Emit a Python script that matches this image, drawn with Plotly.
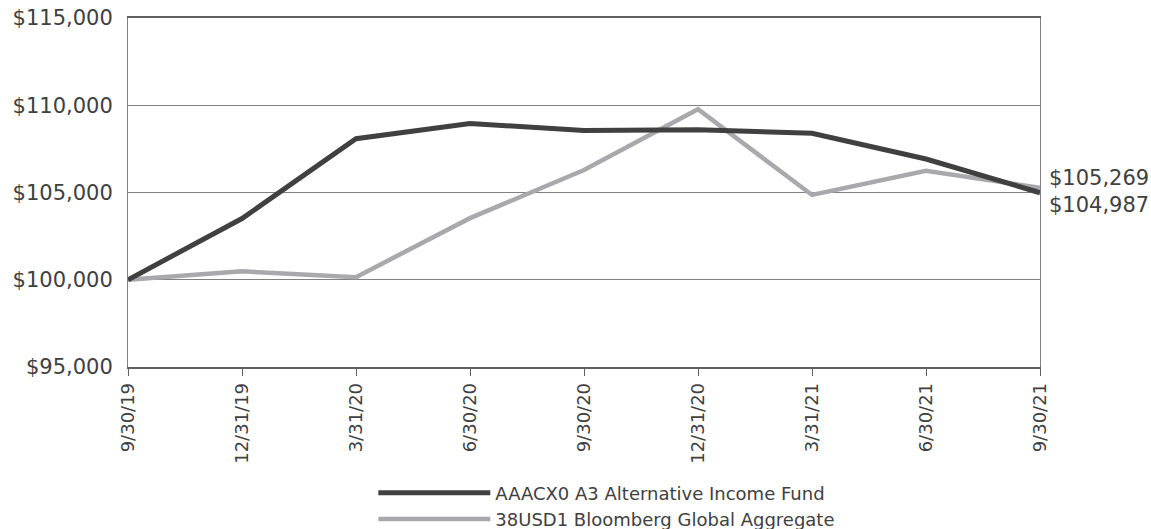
import plotly.graph_objects as go

dates = ["9/30/19", "12/31/19", "3/31/20", "6/30/20", "9/30/20",
         "12/31/20", "3/31/21", "6/30/21", "9/30/21"]
fund_name = "AAACX0 A3 Alternative Income Fund"
fund = [100000, 103510, 108080, 108960, 108550, 108590, 108390, 106920, 104987]
index_name = "38USD1 Bloomberg Global Aggregate"
index = [100000, 100480, 100150, 103530, 106290, 109770, 104860, 106250, 105269]

FONT = "DejaVu Sans"
TXT = "#404040"
GRID = "#808080"

fig = go.Figure()
fig.add_trace(go.Scatter(x=dates, y=index, name=index_name, mode="lines",
                         line=dict(color="#a9a9ab", width=4.5)))
fig.add_trace(go.Scatter(x=dates, y=fund, name=fund_name, mode="lines",
                         line=dict(color="#404040", width=5)))

fig.add_annotation(x=dates[-1], y=index[-1], xref="x", yref="y",
                   text=f"${index[-1]:,.0f}", showarrow=False,
                   xanchor="left", xshift=7, yshift=10,
                   font=dict(family=FONT, size=21, color=TXT))
fig.add_annotation(x=dates[-1], y=fund[-1], xref="x", yref="y",
                   text=f"${fund[-1]:,.0f}", showarrow=False,
                   xanchor="left", xshift=7, yshift=-12,
                   font=dict(family=FONT, size=21, color=TXT))

fig.update_layout(
    width=1151, height=529,
    margin=dict(l=128, r=111, t=18, b=162, autoexpand=False),
    paper_bgcolor="white", plot_bgcolor="white",
    font=dict(family=FONT, color=TXT),
    showlegend=True,
    legend=dict(x=0.269, y=-0.308, xanchor="left", yanchor="top",
                traceorder="reversed", itemwidth=112,
                font=dict(family=FONT, size=18, color=TXT),
                tracegroupgap=0, bgcolor="rgba(0,0,0,0)"),
    xaxis=dict(type="category", range=[0, 8], showgrid=False,
               showline=True, linecolor="#606060", linewidth=1.5,
               mirror=True,
               ticks="outside", ticklen=7, tickcolor="#606060",
               tickangle=-90, tickfont=dict(family=FONT, size=18, color=TXT),
               fixedrange=True),
    yaxis=dict(range=[95000, 115000], dtick=5000, tickprefix="$",
               tickformat=",d", showgrid=True, gridcolor=GRID, gridwidth=1,
               showline=True, linecolor=GRID, linewidth=1, mirror=True,
               ticks="", zeroline=False, ticklabelstandoff=10,
               tickfont=dict(family=FONT, size=21, color=TXT), fixedrange=True),
)

fig.write_html("out.html")
